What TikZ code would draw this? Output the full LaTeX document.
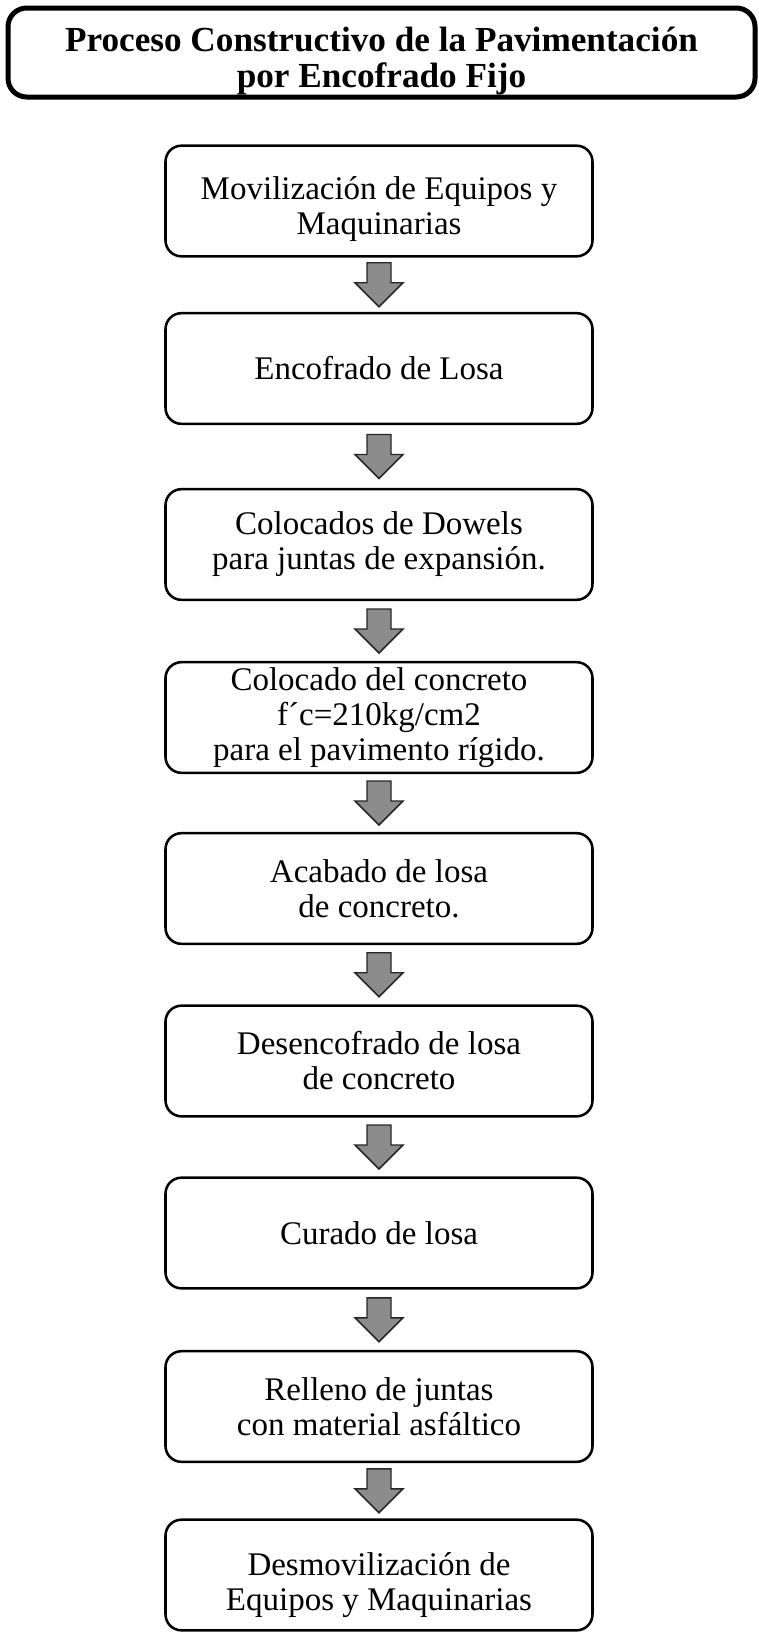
\documentclass[tikz,border=0pt]{standalone}
\usepackage{fontspec}
\setmainfont{Liberation Serif}
\usetikzlibrary{calc}
\tikzset{
  stepbox/.style={draw=black, line width=1.9pt, rounded corners=12pt,
    minimum width=320.25pt, minimum height=83pt, align=center, inner sep=0pt,
    font=\fontsize{24.75}{26.25}\selectfont},
  titlebox/.style={draw=black, line width=3.75pt, rounded corners=14pt,
    minimum width=560.25pt, minimum height=66.75pt, inner sep=0pt},
  titletext/.style={align=center, inner sep=0pt,
    font=\bfseries\fontsize{26.4}{27}\selectfont},
  blockarr/.style={draw=black!85, line width=1.1pt, fill=black!45, line join=miter},
}
\newcommand\lowered[2]{\raisebox{-#1}[\height][\depth]{\begin{tabular}{@{}c@{}}#2\end{tabular}}}
\newcommand\arrowbetween[2]{%
  \path ($(#1.south)!0.5!(#2.north)$) coordinate (#1-#2);
  \draw[blockarr, shift={(#1-#2)}] (-12,-22) -- (12,-22) -- (12,-2) -- (24,-2)
     -- (0,22) -- (-24,-2) -- (-12,-2) -- cycle;}
\begin{document}
\begin{tikzpicture}[x=0.75pt,y=-0.75pt]
\useasboundingbox (0,0) rectangle (759,1632);
\node[titlebox] (title) at (381.5,52.5) {};
\node[titletext] (titletxt) at (381.5,61) {Proceso Constructivo de la Pavimentación\\por Encofrado Fijo};

\node[stepbox] (b1) at (379,201) {\lowered{7pt}{Movilización de Equipos y\\Maquinarias}};
\node[stepbox] (b2) at (379,368.5) {Encofrado de Losa};
\node[stepbox] (b3) at (379,544.5) {Colocados de Dowels\\para juntas de expansión.};
\node[stepbox] (b4) at (379,717.5) {Colocado del concreto\\f´c=210kg/cm2\\para el pavimento rígido.};
\node[stepbox] (b5) at (379,888.5) {Acabado de losa\\de concreto.};
\node[stepbox] (b6) at (379,1061) {\lowered{3pt}{Desencofrado de losa\\de concreto}};
\node[stepbox] (b7) at (379,1233) {Curado de losa};
\node[stepbox] (b8) at (379,1406.5) {Relleno de juntas\\con material asfáltico};
\node[stepbox] (b9) at (379,1575) {\lowered{8pt}{Desmovilización de\\Equipos y Maquinarias}};

\arrowbetween{b1}{b2}
\arrowbetween{b2}{b3}
\arrowbetween{b3}{b4}
\arrowbetween{b4}{b5}
\arrowbetween{b5}{b6}
\arrowbetween{b6}{b7}
\arrowbetween{b7}{b8}
\arrowbetween{b8}{b9}
\end{tikzpicture}
\end{document}
